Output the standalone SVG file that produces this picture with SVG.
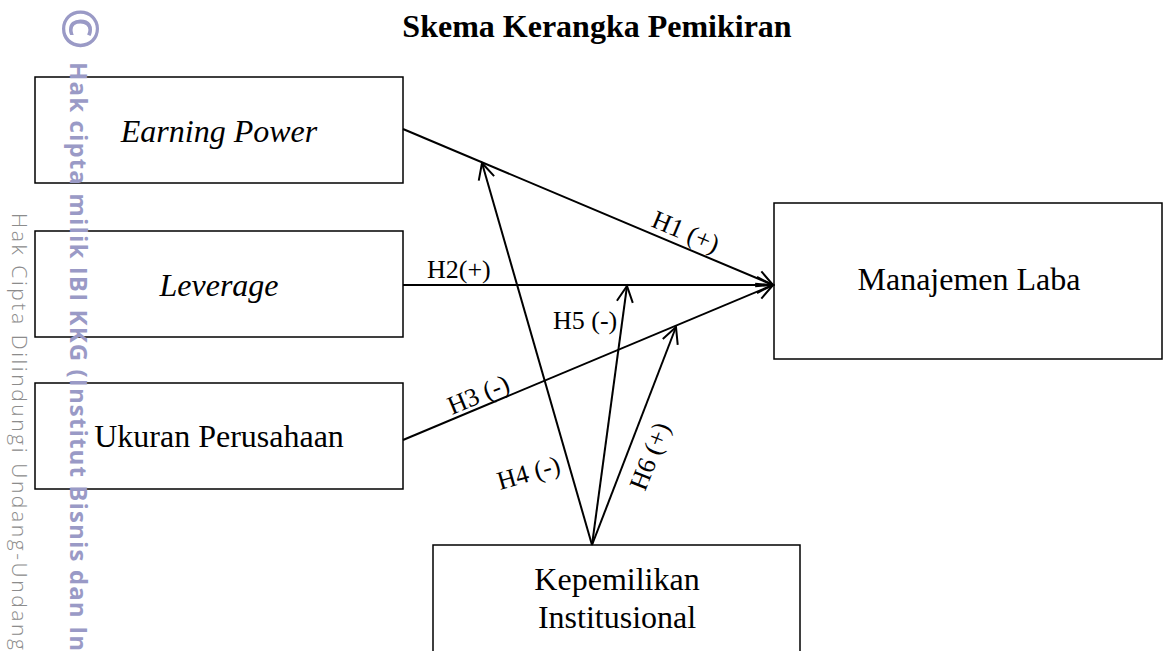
<svg xmlns="http://www.w3.org/2000/svg" width="1163" height="651" viewBox="0 0 1163 651">
<style>
.box{fill:#fff;stroke:#000;stroke-width:1.5}
.nt{font-family:"Liberation Serif","Times New Roman",serif;font-size:32px;fill:#000;text-anchor:middle}
.it{font-style:italic}
.lbl{font-family:"Liberation Serif","Times New Roman",serif;font-size:26px;fill:#000}
.edge{fill:none;stroke:#000;stroke-width:2;marker-end:url(#arr)}
.wm1{font-family:"Open Sans","DejaVu Sans",sans-serif;font-weight:bold;fill:#9a9ac6}
.wm2{font-family:"Open Sans","DejaVu Sans",sans-serif;font-weight:300;fill:#8c8c8c}
</style>
<defs>
<marker id="arr" markerUnits="userSpaceOnUse" markerWidth="24" markerHeight="24" viewBox="-20 -12 24 24" refX="0" refY="0" orient="auto">
<path d="M-16,-8 L0,0 L-16,8" fill="none" stroke="#000" stroke-width="2"/>
</marker>
</defs>
<rect width="1163" height="651" fill="#fff"/>
<text x="597" y="37" font-family="'Liberation Serif','Times New Roman',serif" font-size="32" font-weight="bold" text-anchor="middle">Skema Kerangka Pemikiran</text>
<g id="earning-power"><rect class="box" x="35" y="77" width="368" height="106"/><text class="nt it" x="219" y="142">Earning Power</text></g>
<g id="leverage"><rect class="box" x="35" y="231" width="368" height="106"/><text class="nt it" x="219" y="296">Leverage</text></g>
<g id="ukuran-perusahaan"><rect class="box" x="35" y="383" width="368" height="106"/><text class="nt" x="219" y="447">Ukuran Perusahaan</text></g>
<g id="manajemen-laba"><rect class="box" x="774" y="203" width="388" height="156"/><text class="nt" x="969" y="290">Manajemen Laba</text></g>
<g id="kepemilikan-institusional"><rect class="box" x="433" y="545" width="367" height="130"/><text class="nt" x="617" y="590">Kepemilikan</text><text class="nt" x="617" y="628">Institusional</text></g>
<g id="connectors">
<path class="edge" d="M403,129 L773,285"/>
<path class="edge" d="M403,285 L773,285"/>
<path class="edge" d="M403,440 L773,285"/>
<path class="edge" d="M592,545 L482,163"/>
<path class="edge" d="M592,545 L627,286"/>
<path class="edge" d="M592,545 L676,327"/>
<text class="lbl" transform="translate(650,226) rotate(22.9)">H1 (+)</text>
<text class="lbl" x="427" y="278">H2(+)</text>
<text class="lbl" transform="translate(452,415) rotate(-22.7)">H3 (-)</text>
<text class="lbl" transform="translate(500,490) rotate(-16)">H4 (-)</text>
<text class="lbl" x="553" y="329">H5 (-)</text>
<text class="lbl" transform="translate(645,492) rotate(-68.5)">H6 (+)</text>
</g>
<g id="watermark">
<text class="wm1" font-size="50" transform="translate(62,8) rotate(90)">©</text>
<text class="wm1" font-size="24" textLength="589" lengthAdjust="spacing" transform="translate(70,62) rotate(90)">Hak cipta milik IBI KKG (Institut Bisnis dan In</text>
<text class="wm2" font-size="21" textLength="437" lengthAdjust="spacing" transform="translate(12,213) rotate(90)">Hak Cipta Dilindungi Undang-Undang</text>
</g>
</svg>
